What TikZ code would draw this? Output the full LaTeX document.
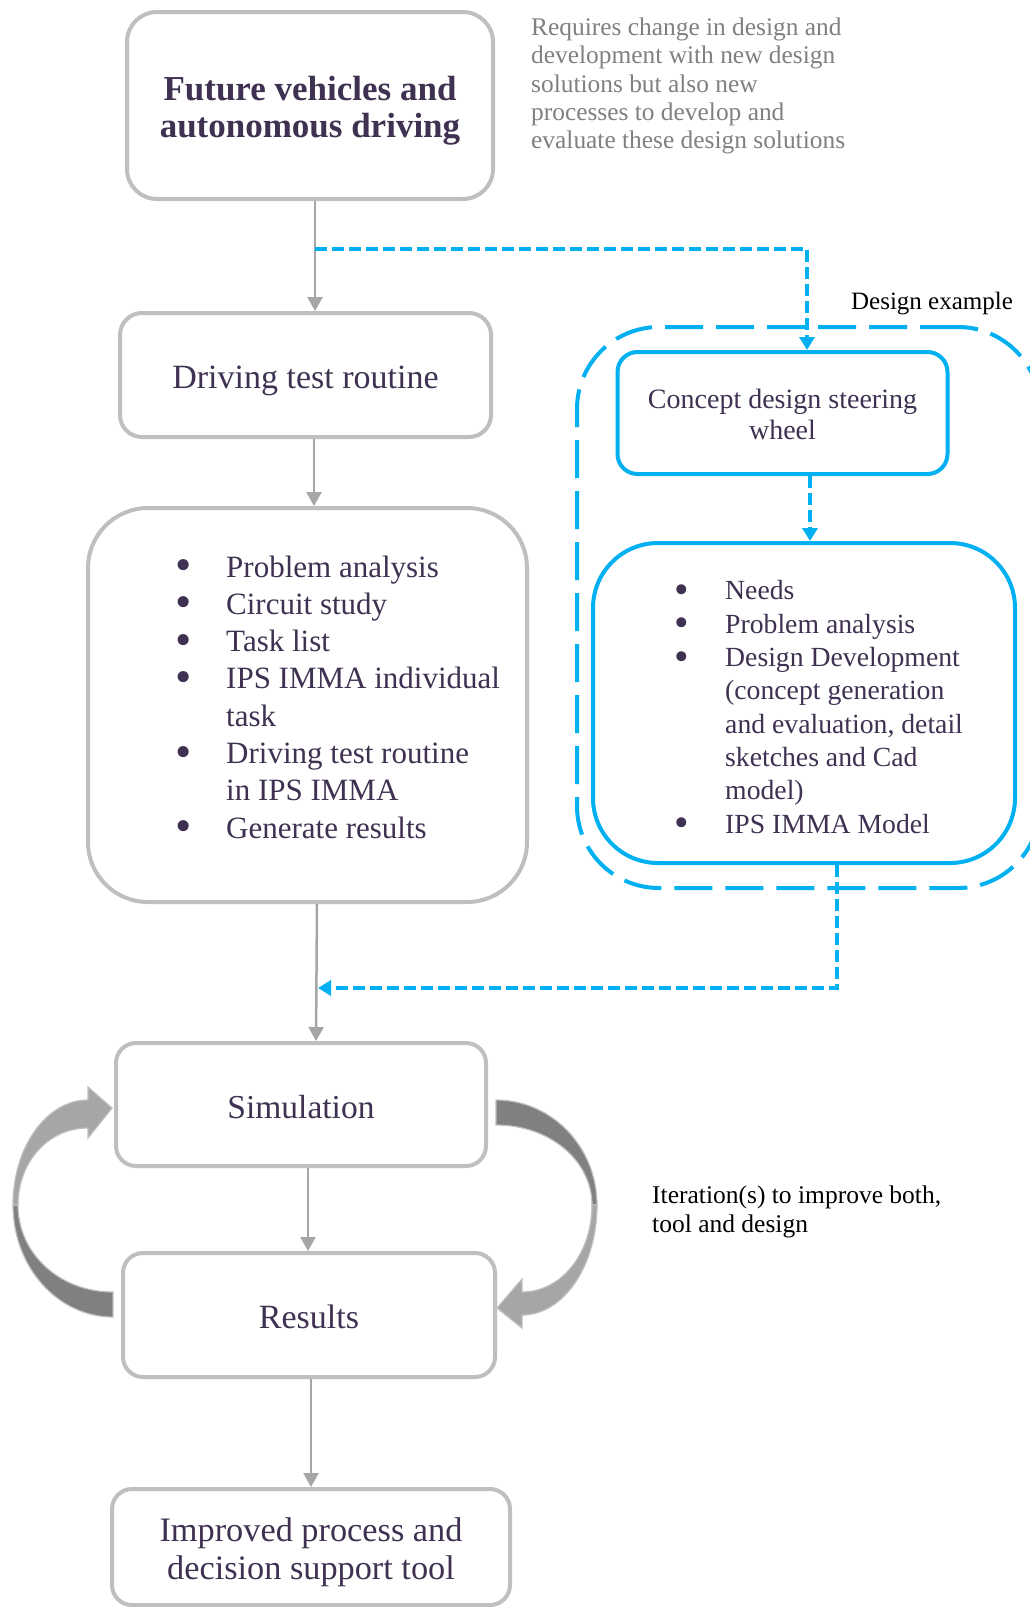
\documentclass[tikz,border=0pt]{standalone}
\usepackage{fontspec}
\usepackage{graphicx}
\setmainfont{Liberation Serif}
\usetikzlibrary{arrows.meta}
\definecolor{txt}{HTML}{3F3151}
\definecolor{bord}{HTML}{BFBFBF}
\definecolor{conn}{HTML}{A6A6A6}
\definecolor{sky}{HTML}{00B0F0}
\definecolor{gtext}{HTML}{808080}
\definecolor{arrl}{HTML}{A6A6A6}
\definecolor{arrd}{HTML}{808080}
\newcommand\myblt{\makebox[51pt][l]{\smash{\raisebox{-3.5pt}{\scalebox{1.5}{\textbullet}}}}}
\newcommand\myind{\hspace*{51pt}}
\newcommand\mystrut[1]{\rule{0pt}{#1}}
\begin{document}
\begin{tikzpicture}[x=1pt,y=-1pt,
  gbox/.style={draw=bord, line width=4pt, rounded corners=#1, fill=white, inner sep=0pt, text=txt, align=center},
  bbox/.style={draw=sky, line width=4pt, rounded corners=#1, fill=white, inner sep=0pt, text=txt, align=center},
  garrow/.style={draw=conn, line width=2.5pt, -{Triangle[width=15pt,length=14pt]}},
  bdash/.style={draw=sky, line width=3.5pt, dash pattern=on 12pt off 5pt},
  btip/.style={-{Triangle[width=15pt,length=13pt]}},
  listtxt/.style={anchor=west, align=left, text=txt, inner sep=0pt},
  cshape/.style={draw=bord, line width=1.2pt}
]
\useasboundingbox (0,0) rectangle (1030,1607);
\fill[white] (0,0) rectangle (1030,1607);

% design example group
\node (grp) at (808.5,607.5) [draw=sky, line width=4pt, dash pattern=on 38pt off 13pt, rounded corners=82pt, minimum width=463pt, minimum height=561pt] {};
\node (dex) at (932,309) [anchor=base, font=\fontsize{25}{29}\selectfont, text=black, inner sep=0pt] {Design example};

% left column boxes
\node (fut) at (310,105.5) [gbox=30pt, minimum width=366pt, minimum height=187pt, font=\fontsize{35}{37}\selectfont\bfseries] {\mystrut{34pt}Future vehicles and\\autonomous driving};
\node (req) at (531,86) [anchor=west, align=left, text=gtext, inner sep=0pt, font=\fontsize{25.4}{28.2}\selectfont] {Requires change in design and\\development with new design\\solutions but also new\\processes to develop and\\evaluate these design solutions};

\node (drv) at (305.5,375) [gbox=22pt, minimum width=371pt, minimum height=124pt, font=\fontsize{34}{38}\selectfont] {\mystrut{35pt}Driving test routine};

\node (lbox) at (307.5,705) [gbox=60pt, minimum width=439pt, minimum height=394pt] {};
\node (lst) at (175,697) [listtxt, font=\fontsize{31}{37.3}\selectfont] {\myblt Problem analysis\\
\myblt Circuit study\\
\myblt Task list\\
\myblt IPS IMMA individual\\
\myind task\\
\myblt Driving test routine\\
\myind in IPS IMMA\\
\myblt Generate results};

\node (sim) at (301,1104.5) [gbox=20pt, minimum width=370pt, minimum height=123pt, font=\fontsize{33.5}{38}\selectfont] {\mystrut{29pt}Simulation};
\node (res) at (309,1315) [gbox=20pt, minimum width=372pt, minimum height=124pt, font=\fontsize{34}{38}\selectfont] {\mystrut{27pt}Results};
\node (imp) at (311,1547) [gbox=20pt, minimum width=398pt, minimum height=116pt, font=\fontsize{34.3}{38}\selectfont] {\mystrut{34pt}Improved process and\\decision support tool};

% right column boxes
\node (cdw) at (782.5,413) [bbox=20pt, minimum width=330pt, minimum height=122pt, font=\fontsize{28}{31}\selectfont] {\mystrut{22pt}Concept design steering\\wheel};
\node (bbx) at (804,703) [bbox=65pt, minimum width=422pt, minimum height=320pt] {};
\node (blst) at (674,707) [listtxt, font=\fontsize{27.7}{33.3}\selectfont] {\myblt Needs\\
\myblt Problem analysis\\
\myblt Design Development\\
\myind (concept generation\\
\myind and evaluation, detail\\
\myind sketches and Cad\\
\myind model)\\
\myblt IPS IMMA Model};

\node (itr) at (652,1212) [anchor=west, align=left, text=black, inner sep=0pt, font=\fontsize{25.5}{29}\selectfont] {Iteration(s) to improve both,\\tool and design};

% gray connectors
\draw[garrow] ([xshift=5pt]fut.south) -- ([xshift=9.5pt]drv.north);
\draw[garrow] ([xshift=8.5pt]drv.south) -- ([xshift=6.5pt]lbox.north);
\draw[garrow] ([xshift=9.5pt]lbox.south) -- ([xshift=15pt]sim.north);
\draw[garrow] ([xshift=7pt]sim.south) -- ([xshift=-1pt]res.north);
\draw[garrow] ([xshift=2pt]res.south) -- (imp.north);

% blue dashed connectors
\coordinate (j1) at (315,249);
\coordinate (j2) at (318,988);
\draw[bdash, btip] (j1) -| ([xshift=24.5pt]cdw.north);
\draw[bdash, btip] ([xshift=27.5pt]cdw.south) -- ([xshift=6pt]bbx.north);
\draw[bdash, btip] ([xshift=33pt]bbx.south) |- (j2);

% curved iteration arrows (left)
\filldraw[cshape, fill=arrd] (13,1205) .. controls (13,1267) and (57.8,1317) .. (113,1317) -- (113,1292) .. controls (58.9,1292) and (18,1253) .. (18,1205) -- cycle;
\filldraw[cshape, fill=arrl] (13,1205) .. controls (13,1147) and (46.6,1100) .. (88,1100) -- (88,1087) -- (112,1108) -- (88,1138) -- (88,1128) .. controls (47.7,1128) and (18,1162.5) .. (18,1205) -- cycle;
% right
\filldraw[cshape, fill=arrd] (496,1100) .. controls (551.8,1100) and (597,1147) .. (597,1205) -- (592,1205) .. controls (592,1160.8) and (550,1125) .. (496,1125) -- cycle;
\filldraw[cshape, fill=arrl] (597,1205) .. controls (597,1265.8) and (563.4,1315) .. (522,1315) -- (522,1328) -- (497,1308) -- (522,1279) -- (522,1292) .. controls (561.8,1292) and (592,1253) .. (592,1205) -- cycle;
\end{tikzpicture}
\end{document}
